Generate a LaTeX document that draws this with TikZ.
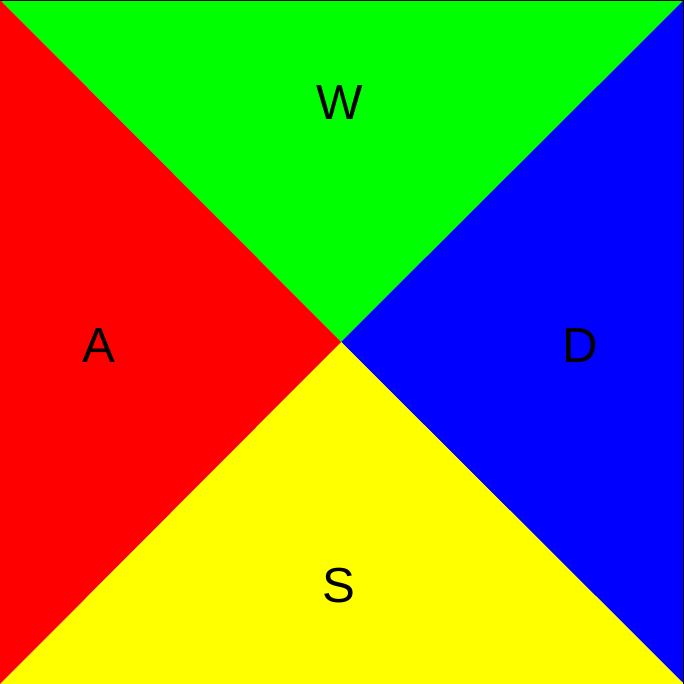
\documentclass[tikz,border=0pt]{standalone}
\usepackage{fontspec}
\setmainfont{Liberation Sans}
\usetikzlibrary{positioning}
\definecolor{keyred}{RGB}{255,0,0}
\definecolor{keygreen}{RGB}{0,255,0}
\definecolor{keyblue}{RGB}{0,0,255}
\definecolor{keyyellow}{RGB}{255,255,0}
\begin{document}
\begin{tikzpicture}[every node/.style={font=\fontsize{14}{16}\selectfont}, key/.style={text=black, inner sep=0pt}]
	\useasboundingbox (0,0) rectangle (6.84,6.84);
	\coordinate (sw) at (0,0); \coordinate (se) at (6.84,0); \coordinate (ne) at (6.84,6.84); \coordinate (nw) at (0,6.84);
	\coordinate (mid) at (3.41,3.42);
	\fill[keygreen] (nw) -- (ne) -- (mid) -- cycle;
	\fill[keyblue] (ne) -- (se) -- (mid) -- cycle;
	\fill[keyyellow] (se) -- (sw) -- (mid) -- cycle;
	\fill[keyred] (sw) -- (nw) -- (mid) -- cycle;
	\draw[black, line width=0.4pt] (nw) -- (ne) -- (se);
	\node[key] (w) at (3.40,5.81) {W};
	\node[key] (a) at (0.99,3.38) {A};
	\node[key] (d) at (5.80,3.38) {D};
	\node[key] (s) at (3.39,0.98) {S};
\end{tikzpicture}
\end{document}
